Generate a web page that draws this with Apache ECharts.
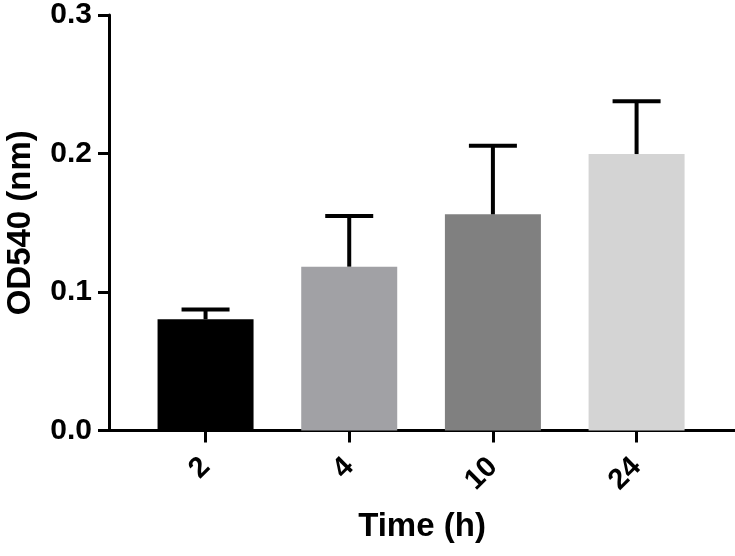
<!DOCTYPE html>
<html>
<head>
<meta charset="utf-8">
<script src="https://cdn.jsdelivr.net/npm/echarts@6/dist/echarts.min.js"></script>
<style>
  html, body { margin: 0; padding: 0; background: #fff; }
  #chart { width: 735px; height: 556px; }
</style>
</head>
<body>
<div id="chart"></div>
<script>
const categories = ['2', '4', '10', '24'];
const means = [0.0803, 0.1183, 0.1561, 0.1996];
const errors = [0.0070, 0.0366, 0.0495, 0.0381];
const yTicks = [0.0, 0.1, 0.2, 0.3];
const barColors = ['#000000', '#a1a1a5', '#808080', '#d4d4d4'];

const idx = categories.map((c, i) => i);
const barData = means.map((m, i) => ({ value: [i, m], itemStyle: { color: barColors[i] } }));
const errData = means.map((m, i) => [i, m, m + errors[i]]);

const FONT = 'Liberation Sans, Arial, sans-serif';
const chart = echarts.init(document.getElementById('chart'));
chart.setOption({
  animation: false,
  backgroundColor: '#ffffff',
  grid: { left: 109, right: 0, top: 15, bottom: 125.5, containLabel: false, outerBoundsMode: 'none' },
  xAxis: {
    type: 'value',
    min: -0.672,
    max: 3.685,
    splitLine: { show: false },
    axisLine: { show: true, onZero: false, lineStyle: { color: '#000', width: 3 } },
    axisTick: { show: true, customValues: idx, length: 12, lineStyle: { color: '#000', width: 3 } },
    axisLabel: {
      customValues: idx,
      formatter: v => categories[Math.round(v)],
      rotate: 45,
      margin: 32,
      fontSize: 29,
      fontWeight: 'bold',
      color: '#000',
      fontFamily: FONT
    },
    name: 'Time (h)',
    nameLocation: 'middle',
    nameGap: 80,
    nameMoveOverlap: false,
    nameTextStyle: { fontSize: 33, fontWeight: 'bold', color: '#000', fontFamily: FONT }
  },
  yAxis: {
    type: 'value',
    min: yTicks[0],
    max: yTicks[yTicks.length - 1],
    interval: 0.1,
    splitLine: { show: false },
    axisLine: { show: true, onZero: false, lineStyle: { color: '#000', width: 3 } },
    axisTick: { show: true, length: 11, lineStyle: { color: '#000', width: 3 } },
    axisLabel: {
      formatter: v => v.toFixed(1),
      margin: 17,
      fontSize: 30,
      fontWeight: 'bold',
      color: '#000',
      fontFamily: FONT
    },
    name: 'OD540 (nm)',
    nameLocation: 'middle',
    nameGap: 72,
    nameMoveOverlap: false,
    nameTextStyle: { fontSize: 33, fontWeight: 'bold', color: '#000', fontFamily: FONT }
  },
  series: [
    {
      type: 'bar',
      data: barData,
      barWidth: 96,
      z: 2
    },
    {
      type: 'custom',
      z: 3,
      data: errData,
      encode: { x: 0, y: [1, 2] },
      renderItem: function (params, api) {
        const x = api.value(0);
        const base = api.coord([x, api.value(1)]);
        const top = api.coord([x, api.value(2)]);
        const half = 24;
        const style = { stroke: '#000', lineWidth: 4 };
        return {
          type: 'group',
          children: [
            { type: 'line', shape: { x1: base[0], y1: base[1], x2: top[0], y2: top[1] }, style: style },
            { type: 'line', shape: { x1: top[0] - half, y1: top[1], x2: top[0] + half, y2: top[1] }, style: style }
          ]
        };
      }
    }
  ]
});
</script>
</body>
</html>
